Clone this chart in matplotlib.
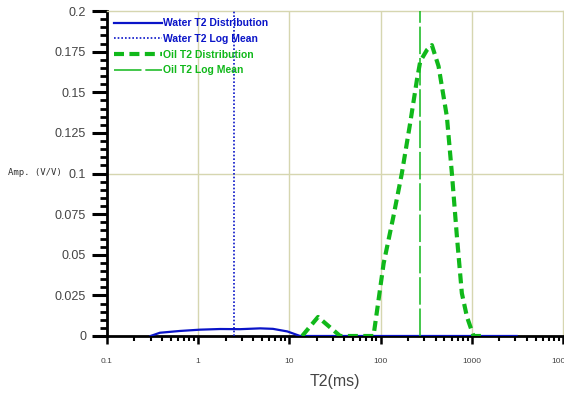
import numpy as np
import matplotlib.pyplot as plt
from matplotlib.ticker import FixedLocator, MultipleLocator, NullFormatter

# water T2 distribution (ms, V/V)
water_t2 = [0.3, 0.38, 0.63, 1.05, 1.74, 2.89, 4.78, 6.6, 9.5, 13.1, 100, 1000, 3100]
water_amp = [0, 0.002, 0.0031, 0.0039, 0.0043, 0.0042, 0.0047, 0.0044, 0.0028, 0, 0, 0, 0]

# oil T2 distribution
oil_t2 = [13.8, 20.6, 36, 83.6, 108, 138, 171, 211, 250, 272, 322, 365, 432,
          533, 605, 687, 778, 884, 1045, 1300]
oil_amp = [0, 0.0117, 0, 0, 0.0447, 0.0734, 0.1001, 0.131, 0.1575, 0.169, 0.176, 0.179,
           0.166, 0.135, 0.100, 0.061, 0.0263, 0.0119, 0, 0]

water_logmean = 2.48
oil_logmean = 272

xticks = [0.1, 1, 10, 100, 1000, 10000]
xticklabels = ["0.1", "1", "10", "100", "1000", "10000"]
yticks = [0, 0.025, 0.05, 0.075, 0.1, 0.125, 0.15, 0.175, 0.2]
yticklabels = ["0", "0.025", "0.05", "0.075", "0.1", "0.125", "0.15", "0.175", "0.2"]

blue = "#0a14c8"
green = "#10b81a"
grid_c = "#d6d6b0"

fig = plt.figure(figsize=(5.64, 3.99), dpi=100)
ax = fig.add_axes([107 / 564, 1 - 336 / 399, 456 / 564, 325 / 399])

ax.set_xscale("log")
ax.set_xlim(0.1, 10000)
ax.set_ylim(0, 0.2)

# grid lines only at 1,10,100,1000 and 0.1
for gx in [1, 10, 100, 1000]:
    ax.axvline(gx, color=grid_c, lw=1, zorder=0)
ax.axhline(0.1, color=grid_c, lw=1, zorder=0)

ax.plot(water_t2, water_amp, color=blue, lw=1.6, label="Water T2 Distribution", zorder=3)
ax.axvline(water_logmean, color=blue, lw=1.2, ls=(0, (1, 1.2)), label="Water T2 Log Mean", zorder=3)
ax.plot(oil_t2, oil_amp, color=green, lw=3, ls=(0, (2.4, 1.3)), label="Oil T2 Distribution", zorder=4)
ax.axvline(oil_logmean, color=green, lw=1.1, ls=(0, (18, 2.5)), label="Oil T2 Log Mean", zorder=3)

tick_font = {"family": "Liberation Sans"}
ax.xaxis.set_major_locator(FixedLocator(xticks))
ax.set_xticklabels(xticklabels, fontsize=6, color="#444444", fontdict=tick_font)
ax.xaxis.set_minor_locator(FixedLocator([m * 10.0 ** e for e in range(-1, 4) for m in range(2, 10)]))
ax.xaxis.set_minor_formatter(NullFormatter())
ax.set_yticks(yticks)
ax.set_yticklabels(yticklabels, fontsize=9, color="#444444", fontdict=tick_font)
ax.yaxis.set_minor_locator(MultipleLocator(0.005))

ax.tick_params(axis="y", which="major", direction="out", length=11, width=2.2, pad=4)
ax.tick_params(axis="y", which="minor", direction="out", length=5, width=2)
ax.tick_params(axis="x", which="major", direction="out", length=6, width=1.8, pad=10)
ax.tick_params(axis="x", which="minor", direction="out", length=3.5, width=1.5)

for s in ["left", "bottom"]:
    ax.spines[s].set_linewidth(2)
    ax.spines[s].set_color("black")
for s in ["top", "right"]:
    ax.spines[s].set_color(grid_c)
    ax.spines[s].set_linewidth(1)

ax.set_xlabel("T2(ms)", fontsize=11.5, color="#444444", labelpad=6, family="Liberation Sans")
fig.text(8 / 564, 1 - 173 / 399, "Amp. (V/V)", fontsize=6.5, family="DejaVu Sans Mono",
         va="center", ha="left", color="#333333")

leg = ax.legend(loc="upper left", frameon=False, handlelength=4.6,
                handletextpad=0.1, labelspacing=0.55, borderaxespad=0.3,
                labelcolor="linecolor", prop={"weight": "bold", "family": "Liberation Sans", "size": 7.5})

fig.savefig("out.png", dpi=100, facecolor="white")
